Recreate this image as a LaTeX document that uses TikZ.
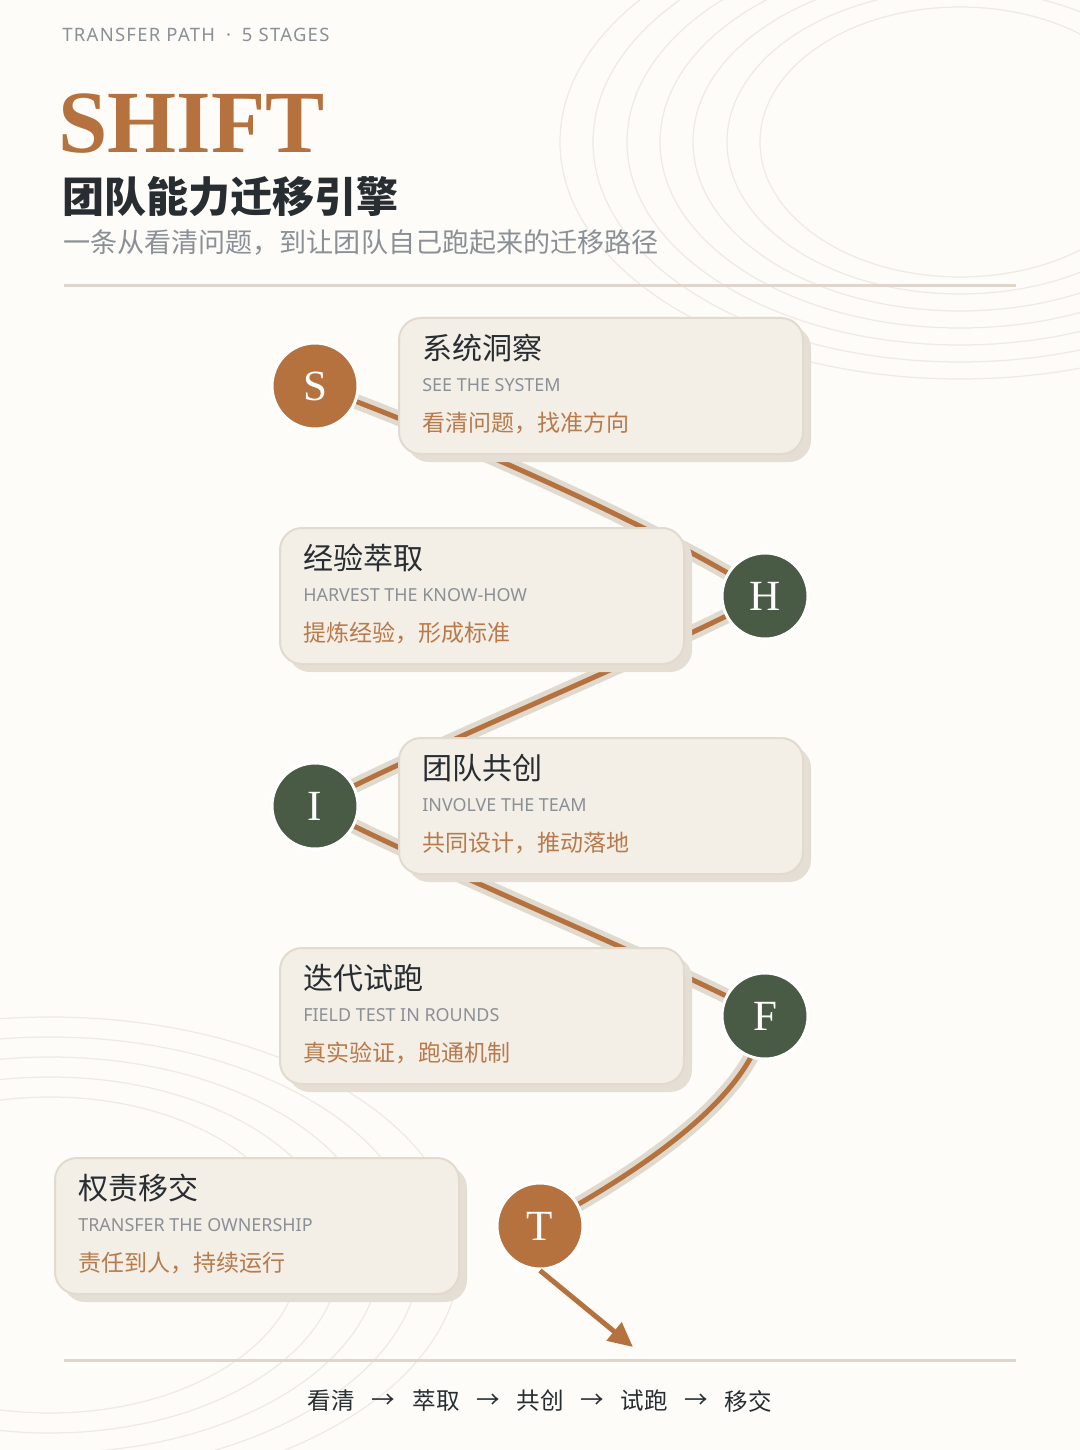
\documentclass[tikz,border=0pt]{standalone}
\usepackage{fontspec}
\setmainfont{Liberation Serif}
\newfontfamily\cjk{Noto Sans CJK SC}
\newfontfamily\latin{Noto Sans}
\newfontfamily\latinwide{Noto Sans}[LetterSpace=7]
\usetikzlibrary{positioning, arrows.meta, shadows}

\definecolor{paper}{HTML}{FDFCF9}
\definecolor{copper}{HTML}{B5713E}
\definecolor{coppertext}{HTML}{B97A4B}
\definecolor{moss}{HTML}{4A5B45}
\definecolor{ink}{HTML}{272D31}
\definecolor{mute}{HTML}{8A9095}
\definecolor{cardfill}{HTML}{F3EEE6}
\definecolor{cardline}{HTML}{E2DACE}
\definecolor{cardshade}{HTML}{E4DED4}
\definecolor{road}{HTML}{E0D9CD}
\definecolor{rule}{HTML}{DED6CA}
\definecolor{ringcol}{HTML}{EFEBE4}

\pgfdeclarelayer{back}
\pgfdeclarelayer{roadlayer}
\pgfsetlayers{back,roadlayer,main}

\begin{document}
\begin{tikzpicture}
        [x=0.2mm, y=-0.2mm,
         card/.style={rectangle, rounded corners=4.4mm, fill=cardfill, draw=cardline,
           line width=0.4mm, minimum width=80.8mm, minimum height=27.2mm, anchor=north west,
           general shadow={fill=cardshade, shadow xshift=1.6mm, shadow yshift=-1.6mm}},
         stage/.style={circle, minimum size=17.2mm, inner sep=0pt, draw=white, line width=0.6mm,
           text=white, font=\fontsize{24.5}{25}\selectfont},
         cardtitle/.style={anchor=west, inner sep=0pt, text=ink, font=\cjk\fontsize{17.1}{20}\selectfont},
         cardeng/.style={anchor=west, inner sep=0pt, text=mute, font=\latin\fontsize{10.2}{12}\selectfont},
         cardnote/.style={anchor=west, inner sep=0pt, text=coppertext, font=\cjk\fontsize{13.1}{16}\selectfont},
         flow/.style={inner sep=0pt, text=ink, font=\cjk\fontsize{13.4}{16}\selectfont},
         ring/.style={draw=ringcol, line width=0.25mm},
         band/.style={draw=road, line width=3mm},
         wire/.style={draw=copper, line width=1mm},
         >={Triangle[length=14pt, width=13pt]}]

        \useasboundingbox (0,0) rectangle (1080,1450);

        \begin{pgfonlayer}{back}
        \fill[paper] (0,0) rectangle (1080,1450);
        \begin{scope}
        \clip (0,0) rectangle (1080,1450);
        % rings, top right
        \draw[ring] (960,142) ellipse [x radius=200, y radius=135];
        \draw[ring] (960,142) ellipse [x radius=233, y radius=152];
        \draw[ring] (960,142) ellipse [x radius=267, y radius=169];
        \draw[ring] (960,142) ellipse [x radius=300, y radius=186];
        \draw[ring] (960,142) ellipse [x radius=333, y radius=203];
        \draw[ring] (960,142) ellipse [x radius=367, y radius=220];
        \draw[ring] (960,142) ellipse [x radius=400, y radius=237];
        % rings, bottom left
        \draw[ring] (50,1255) ellipse [x radius=250, y radius=158];
        \draw[ring] (50,1255) ellipse [x radius=290, y radius=178];
        \draw[ring] (50,1255) ellipse [x radius=330, y radius=198];
        \draw[ring] (50,1255) ellipse [x radius=370, y radius=218];
        \draw[ring] (50,1255) ellipse [x radius=410, y radius=238];
        \end{scope}
        \end{pgfonlayer}

        % heading
        \node[anchor=west, inner sep=0pt, text=mute, font=\latinwide\fontsize{10.5}{12}\selectfont]
            (kicker) at (62,35) {TRANSFER PATH\hspace{2.2mm}·\hspace{2.2mm}5 STAGES};
        \node[anchor=base west, inner sep=0pt, text=copper, font=\bfseries\fontsize{50.5}{52}\selectfont]
            (shift) at (58,153) {SHIFT};
        \node[anchor=west, inner sep=0pt, text=ink, font=\cjk\bfseries\fontsize{23.9}{26}\selectfont]
            (title) at (62,197) {团队能力迁移引擎};
        \node[anchor=west, inner sep=0pt, text=mute, font=\cjk\fontsize{15.4}{18}\selectfont]
            (sub) at (63,243) {一条从看清问题，到让团队自己跑起来的迁移路径};
        \coordinate (topL) at (64,286);
        \coordinate (topR) at (1016,286);
        \draw[rule, line width=0.6mm] (topL) -- (topR);

        % cards
        \node[card] (cS) at (398,317) {};
        \node[cardtitle] (tS) at ([shift={(24,31)}]cS.north west) {系统洞察};
        \node[cardeng] (eS) at ([shift={(24,68)}]cS.north west) {SEE THE SYSTEM};
        \node[cardnote] (nS) at ([shift={(24,106)}]cS.north west) {看清问题，找准方向};

        \node[card] (cH) at (279,527) {};
        \node[cardtitle] (tH) at ([shift={(24,31)}]cH.north west) {经验萃取};
        \node[cardeng] (eH) at ([shift={(24,68)}]cH.north west) {HARVEST THE KNOW-HOW};
        \node[cardnote] (nH) at ([shift={(24,106)}]cH.north west) {提炼经验，形成标准};

        \node[card] (cI) at (398,737) {};
        \node[cardtitle] (tI) at ([shift={(24,31)}]cI.north west) {团队共创};
        \node[cardeng] (eI) at ([shift={(24,68)}]cI.north west) {INVOLVE THE TEAM};
        \node[cardnote] (nI) at ([shift={(24,106)}]cI.north west) {共同设计，推动落地};

        \node[card] (cF) at (279,947) {};
        \node[cardtitle] (tF) at ([shift={(24,31)}]cF.north west) {迭代试跑};
        \node[cardeng] (eF) at ([shift={(24,68)}]cF.north west) {FIELD TEST IN ROUNDS};
        \node[cardnote] (nF) at ([shift={(24,106)}]cF.north west) {真实验证，跑通机制};

        \node[card] (cT) at (54,1157) {};
        \node[cardtitle] (tT) at ([shift={(24,31)}]cT.north west) {权责移交};
        \node[cardeng] (eT) at ([shift={(24,68)}]cT.north west) {TRANSFER THE OWNERSHIP};
        \node[cardnote] (nT) at ([shift={(24,106)}]cT.north west) {责任到人，持续运行};

        % stages
        \node[stage, fill=copper] (S) at (315,386) {S};
        \node[stage, fill=moss] (H) at (765,596) {H};
        \node[stage, fill=moss] (I) at (315,806) {I};
        \node[stage, fill=moss] (F) at (765,1016) {F};
        \node[stage, fill=copper] (T) at (540,1226) {T};

        % the road
        \begin{pgfonlayer}{roadlayer}
        \draw[band] (S.center) .. controls +(150,55) and +(-90,-60) .. (H.center)
            .. controls +(-100,55) and +(90,-50) .. (I.center)
            .. controls +(90,50) and +(-90,-50) .. (F.center)
            .. controls +(-10,80) and +(100,-55) .. (T.center);
        \draw[wire] (S.center) .. controls +(150,55) and +(-90,-60) .. (H.center)
            .. controls +(-100,55) and +(90,-50) .. (I.center)
            .. controls +(90,50) and +(-90,-50) .. (F.center)
            .. controls +(-10,80) and +(100,-55) .. (T.center);
        \end{pgfonlayer}

        \coordinate (tip) at (633,1347);
        \draw[->, copper, line width=1mm] (T.south) -- (tip);

        % footer
        \coordinate (botL) at (64,1360);
        \coordinate (botR) at (1016,1360);
        \draw[rule, line width=0.6mm] (botL) -- (botR);
        \node[flow] (f1) at (331,1401) {看清};
        \node[flow] (a1) at (383,1401) {→};
        \node[flow] (f2) at (436,1401) {萃取};
        \node[flow] (a2) at (488,1401) {→};
        \node[flow] (f3) at (540,1401) {共创};
        \node[flow] (a3) at (592,1401) {→};
        \node[flow] (f4) at (644,1401) {试跑};
        \node[flow] (a4) at (696,1401) {→};
        \node[flow] (f5) at (748,1401) {移交};
    \end{tikzpicture}
\end{document}
